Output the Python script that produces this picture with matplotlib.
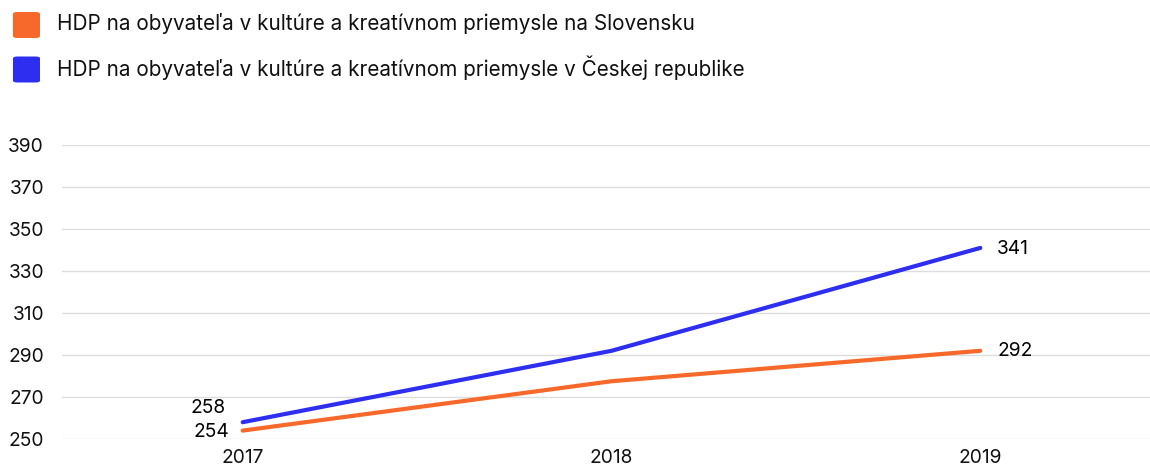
import numpy as np
import matplotlib
matplotlib.use("Agg")
import matplotlib.pyplot as plt
from matplotlib.patches import FancyBboxPatch

plt.rcParams['font.family'] = ['Inter', 'DejaVu Sans']

years = ["2017", "2018", "2019"]
sk_values = [254, 277.5, 292]
cz_values = [258, 292, 341]
series_names = ["HDP na obyvateľa v kultúre a kreatívnom priemysle na Slovensku",
                "HDP na obyvateľa v kultúre a kreatívnom priemysle v Českej republike"]
colors = ["#F7692A", "#2E2EF0"]
y_ticks = [250, 270, 290, 310, 330, 350, 370, 390]

W, H = 1150, 469
fig = plt.figure(figsize=(W / 100, H / 100), dpi=100)
ax = fig.add_axes([62 / W, 1 - 439 / H, 1 - 62 / W, (439 - 145) / H])

x = np.arange(len(years))
ax.plot(x, sk_values, color=colors[0], lw=3, solid_capstyle='round', zorder=3, clip_on=False)
ax.plot(x, cz_values, color=colors[1], lw=3, solid_capstyle='round', zorder=3, clip_on=False)

ax.set_xlim(-0.49, 2.46)
ax.set_ylim(250, 390)
ax.set_yticks(y_ticks)
ax.set_xticks(x)
ax.set_xticklabels(years)
ax.grid(axis='y', color='#dddddd', lw=1)
ax.set_axisbelow(True)
for s in ax.spines.values():
    s.set_visible(False)
ax.tick_params(length=0, labelsize=13.8, colors='#111111')
ax.tick_params(axis='y', pad=13)
ax.tick_params(axis='x', pad=7)

# value labels
ax.annotate(str(cz_values[0]), (x[0], cz_values[0]), xytext=(-12, 10), textcoords='offset points',
            ha='right', va='center', fontsize=13.8)
ax.annotate(str(sk_values[0]), (x[0], sk_values[0]), xytext=(-10, -1), textcoords='offset points',
            ha='right', va='center', fontsize=13.8)
ax.annotate(str(cz_values[2]), (x[2], cz_values[2]), xytext=(12, -0.5), textcoords='offset points',
            ha='left', va='center', fontsize=13.8)
ax.annotate(str(sk_values[2]), (x[2], sk_values[2]), xytext=(12, -0.5), textcoords='offset points',
            ha='left', va='center', fontsize=13.8)

# legend
for i, (name, c) in enumerate(zip(series_names, colors)):
    yc = 25 + i * 44.5
    box = FancyBboxPatch((13 / W, 1 - (yc + 13) / H), 27 / W, 26 / H,
                         boxstyle="round,pad=0,rounding_size=0.004", transform=fig.transFigure,
                         facecolor=c, edgecolor='none')
    fig.patches.append(box)
    fig.text(57 / W, 1 - (yc - 1.5) / H, name, ha='left', va='center', fontsize=14.9, color='#111111')

fig.savefig("out.png", dpi=100)
